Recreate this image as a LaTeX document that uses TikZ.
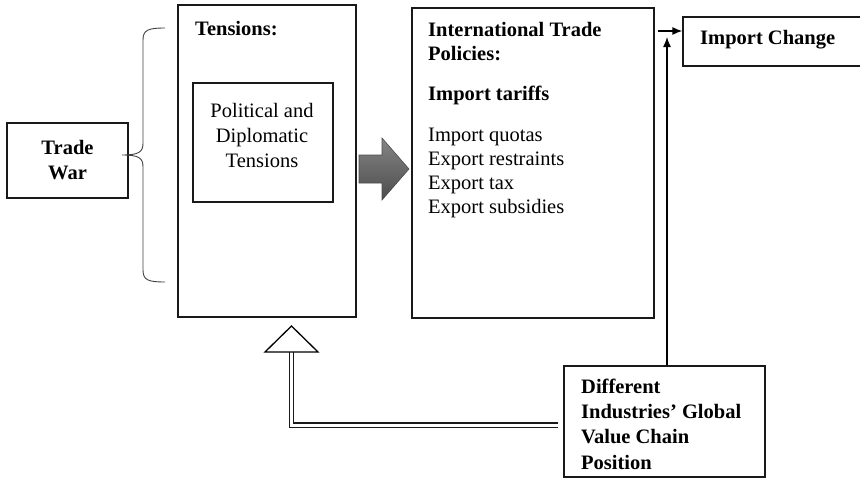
\documentclass[tikz,border=0pt]{standalone}
\usepackage{fontspec}
\setmainfont{Liberation Serif}
\usepackage{tikz}
\usetikzlibrary{arrows,arrows.meta}
\usetikzlibrary{positioning}
\tikzset{frame/.style={rectangle,draw=black!90,line width=1.3pt,inner sep=0pt}}
\tikzset{label/.style={inner sep=0pt,align=left,font=\fontsize{20.5}{24}\selectfont}}

\begin{document}
\begin{tikzpicture}[x=1pt,y=-1pt]
  % some styles
  \tikzset{
    flow/.style={
      draw=black!70,
      line width=0.6pt,
      top color=black!48,
      bottom color=black!70
    }
  }
  \tikzset{pipe/.style={double=white,double distance=3pt,line width=1.1pt,draw=black!90}}
  \tikzset{feed/.style={-{Latex[length=10pt,width=8pt]},line width=1.3pt}}
\useasboundingbox (0,0) rectangle (860,479);

% boxes (multi-line labels are pinned at their last baseline)
\node[frame,minimum width=121pt,minimum height=75pt,align=center,
      font=\fontsize{20.5}{25}\selectfont\bfseries] (tradewar) at (67.5,160.5) {Trade\\War};
\node[frame,minimum width=178pt,minimum height=312pt] (tensions) at (267,161) {};
\node[label,anchor=base west,font=\fontsize{20.5}{24}\selectfont\bfseries] (tenslabel)
      at (195,35) {Tensions:};
\node[frame,minimum width=140pt,minimum height=119pt] (political) at (263,142.5) {};
\node[label,anchor=base,align=center,font=\fontsize{20.5}{25}\selectfont] (politext)
      at (262,167) {Political and\\Diplomatic\\Tensions};
\node[frame,minimum width=242pt,minimum height=310pt] (policies) at (533,163) {};
\node[label,anchor=base west] (polilabel) at (428,213)
      {\textbf{International Trade}\\\textbf{Policies:}\\[16pt]
       \textbf{Import tariffs}\\[17pt]
       Import quotas\\Export restraints\\Export tax\\Export subsidies};
\node[frame,minimum width=190pt,minimum height=49pt] (change) at (778,41.5) {};
\node[label,anchor=base west,font=\fontsize{20.5}{24}\selectfont\bfseries] (changelabel)
      at (700,44) {Import Change};
\node[frame,minimum width=201pt,minimum height=111pt] (gvc) at (664.5,421.5) {};
\node[label,anchor=base west,font=\fontsize{20.5}{25.3}\selectfont\bfseries] (gvclabel)
      at (581,469)
      {Different\\Industries' Global\\Value Chain\\Position};

% bracket round the tensions
\draw[black!75,line width=0.9pt] (165,28) .. controls (148,28) and (143,30) .. (143,40)
   -- (143,143) .. controls (143,152) and (139,155) .. (122,155)
   .. controls (139,155) and (143,158) .. (143,167)
   -- (143,270) .. controls (143,280) and (148,282) .. (165,282);

% shaded arrow between the two columns
\draw[flow] (359,155) -- (382,155) -- (382,138) -- (409,169) -- (382,200)
   -- (382,183) -- (359,183) -- cycle;

% arrows into import change
\coordinate (hstart) at (658,31);
\coordinate (vtop) at (667,37);
\draw[feed] (hstart) -- (change.west |- hstart);
\draw[feed] (gvc.north -| vtop) -- (vtop);

% hollow arrow back to tensions
\coordinate (bend) at (291.5,425);
\coordinate (base) at (291.5,352);
\coordinate (tip) at (291.5,326);
\coordinate (pipeend) at (558,425);
\draw[pipe] (pipeend) -- (bend) -- (base);
\draw[fill=white,line width=1.3pt,line join=miter] (265,352) -- (tip) -- (318,352) -- cycle;
\end{tikzpicture}
\end{document}
